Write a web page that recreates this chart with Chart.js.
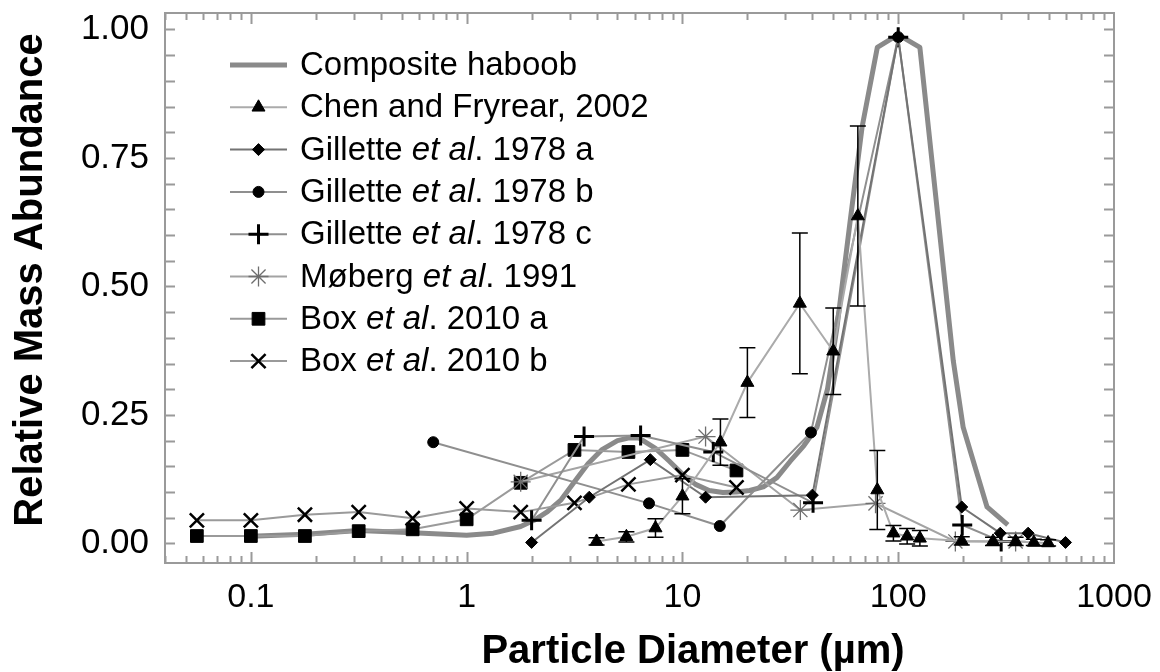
<!DOCTYPE html>
<html lang="en">
<head>
<meta charset="UTF-8">
<title>Haboob particle size distributions</title>
<script src="https://cdn.jsdelivr.net/npm/chart.js@4.4.1/dist/chart.umd.min.js"></script>
<style>
  html, body { margin: 0; padding: 0; background: #fff; }
  .wrap { position: relative; width: 1160px; height: 672px; }
</style>
</head>
<body>
<div class="wrap"><canvas id="psd"></canvas></div>
<script>
// Particle diameter (µm) vs relative mass abundance, one pair of arrays per source
const compositeX = [0.1, 0.178, 0.316, 0.562, 1.0, 1.33, 1.78, 2.05, 2.37, 2.74, 3.16, 3.65, 4.22, 5.0, 5.6, 6.3, 7.5, 8.7, 10, 11.5, 13.3, 15.4, 17.8, 20.5, 23.7, 27.4, 31.6, 36.5, 42, 47, 52, 60, 68, 80, 100, 126, 180, 200, 258, 322];
const compositeY = [0.014, 0.018, 0.025, 0.021, 0.016, 0.02, 0.033, 0.045, 0.062, 0.085, 0.12, 0.155, 0.182, 0.2, 0.205, 0.205, 0.185, 0.16, 0.135, 0.115, 0.103, 0.099, 0.1, 0.103, 0.11, 0.128, 0.16, 0.19, 0.226, 0.3, 0.42, 0.63, 0.81, 0.965, 0.99, 0.965, 0.355, 0.226, 0.071, 0.036];

const chenX = [4.0, 5.5, 7.5, 10, 15, 20, 35, 50, 65, 80, 95, 110, 126, 197, 275, 350, 425, 495];
const chenY = [0.004, 0.013, 0.03, 0.092, 0.197, 0.313, 0.467, 0.374, 0.637, 0.104, 0.02, 0.014, 0.01, 0.005, 0.004, 0.004, 0.002, 0.001];
const chenErr = [0.007, 0.01, 0.018, 0.034, 0.045, 0.068, 0.137, 0.084, 0.175, 0.077, 0.015, 0.015, 0.015, 0.008, 0.008, 0.008, 0.006, 0.006];

const gilletteAX = [2.0, 3.7, 7.1, 12.8, 40, 100, 197, 297, 400, 596];
const gilletteAY = [0.002, 0.09, 0.163, 0.09, 0.094, 0.985, 0.071, 0.02, 0.02, 0.002];

const gilletteBX = [0.7, 7.0, 14.9, 39.4, 100];
const gilletteBY = [0.197, 0.078, 0.034, 0.216, 0.985];

const gilletteCX = [2.0, 3.5, 6.4, 13.9, 40.3, 100, 198, 300];
const gilletteCY = [0.045, 0.208, 0.21, 0.178, 0.079, 0.985, 0.036, 0.004];

const mobergX = [1.78, 12.8, 35.2, 78.5, 184, 350];
const mobergY = [0.12, 0.208, 0.065, 0.078, 0.004, 0.004];

const boxAX = [0.0562, 0.1, 0.178, 0.316, 0.562, 1.0, 1.78, 3.16, 5.62, 10, 17.8];
const boxAY = [0.0145, 0.0145, 0.0145, 0.024, 0.0275, 0.047, 0.118, 0.182, 0.178, 0.182, 0.142];

const boxBX = [0.0562, 0.1, 0.178, 0.316, 0.562, 1.0, 1.78, 3.16, 5.62, 10, 17.8];
const boxBY = [0.045, 0.045, 0.056, 0.061, 0.049, 0.068, 0.061, 0.079, 0.115, 0.133, 0.109];

// axis ticks and titles
const xTickValues = [0.1, 1, 10, 100, 1000];
const xTickLabels = ['0.1', '1', '10', '100', '1000'];
const yTickValues = [0, 0.25, 0.5, 0.75, 1];
const yTickLabels = ['0.00', '0.25', '0.50', '0.75', '1.00'];
const xTitle = 'Particle Diameter (\u00b5m)';
const yTitle = 'Relative Mass Abundance';

// legend text, split so "et al" can be set in italics
const legendText = [
  [['Composite haboob', false]],
  [['Chen and Fryrear, 2002', false]],
  [['Gillette ', false], ['et al', true], ['. 1978 a', false]],
  [['Gillette ', false], ['et al', true], ['. 1978 b', false]],
  [['Gillette ', false], ['et al', true], ['. 1978 c', false]],
  [['M\u00f8berg ', false], ['et al', true], ['. 1991', false]],
  [['Box ', false], ['et al', true], ['. 2010 a', false]],
  [['Box ', false], ['et al', true], ['. 2010 b', false]]
];

const FONT = "Arial, 'Liberation Sans', sans-serif";
const pts = (xs, ys) => xs.map((x, i) => ({ x: x, y: ys[i] }));

function series(xs, ys, line, style, radius, extra) {
  return Object.assign({
    data: pts(xs, ys),
    borderColor: line,
    borderWidth: 2,
    pointStyle: style,
    pointRadius: radius,
    pointBackgroundColor: '#000',
    pointBorderColor: '#000',
    pointBorderWidth: 1,
    tension: 0,
    order: 1
  }, extra || {});
}

const datasets = [
  {
    data: pts(compositeX, compositeY),
    borderColor: '#8a8a8a',
    borderWidth: 5,
    borderJoinStyle: 'round',
    pointRadius: 0,
    tension: 0,
    order: 9
  },
  series(chenX, chenY, '#ababab', 'triangle', 7.5),
  series(gilletteAX, gilletteAY, '#737373', 'rectRot', 6),
  series(gilletteBX, gilletteBY, '#8f8f8f', 'circle', 5.5),
  series(gilletteCX, gilletteCY, '#8f8f8f', 'cross', 10, { pointBorderWidth: 3 }),
  series(mobergX, mobergY, '#a3a3a3', 'star', 10, { pointBorderColor: '#6e6e6e', pointBorderWidth: 1.3 }),
  series(boxAX, boxAY, '#9a9a9a', 'rect', 9),
  series(boxBX, boxBY, '#9a9a9a', 'crossRot', 10, { pointBorderWidth: 2.5 })
];

// frame with inward ticks on all four sides
const framePlugin = {
  id: 'frame',
  afterDraw(chart) {
    const { ctx, chartArea: a, scales: { x, y } } = chart;
    ctx.save();
    ctx.strokeStyle = '#9a9a9a';
    ctx.lineWidth = 2;
    ctx.strokeRect(a.left, a.top, a.right - a.left, a.bottom - a.top);
    ctx.beginPath();
    for (let v = 0; v <= 1.0001; v += 0.05) {
      const py = Math.round(y.getPixelForValue(v)) + 0.5;
      ctx.moveTo(a.left, py); ctx.lineTo(a.left + 10, py);
      ctx.moveTo(a.right, py); ctx.lineTo(a.right - 10, py);
    }
    for (let d = 0.01; d < 1000; d *= 10) {
      for (let m = 1; m <= 9; m++) {
        const v = d * m;
        if (v < x.min || v > x.max) continue;
        const px = Math.round(x.getPixelForValue(v)) + 0.5;
        const len = m === 1 ? 11 : 7;
        ctx.moveTo(px, a.bottom); ctx.lineTo(px, a.bottom - len);
        ctx.moveTo(px, a.top); ctx.lineTo(px, a.top + len);
      }
    }
    ctx.stroke();
    ctx.restore();
  }
};

// vertical error bars on the Chen and Fryrear points
const errorBarPlugin = {
  id: 'errorBars',
  afterDatasetsDraw(chart) {
    const { ctx, scales: { x, y } } = chart;
    ctx.save();
    ctx.strokeStyle = '#000';
    ctx.lineWidth = 1.5;
    ctx.beginPath();
    chenX.forEach((xv, i) => {
      const px = x.getPixelForValue(xv);
      const hi = y.getPixelForValue(chenY[i] + chenErr[i]);
      const lo = y.getPixelForValue(chenY[i] - chenErr[i]);
      ctx.moveTo(px, hi); ctx.lineTo(px, lo);
      ctx.moveTo(px - 8, hi); ctx.lineTo(px + 8, hi);
      ctx.moveTo(px - 8, lo); ctx.lineTo(px + 8, lo);
    });
    ctx.stroke();
    ctx.restore();
  }
};

// legend inside the plot, with a line sample and marker per source
const legendPlugin = {
  id: 'insideLegend',
  afterDraw(chart) {
    const ctx = chart.ctx;
    const x0 = 230, x1 = 287, textX = 300, top = 65, step = 42.3;
    ctx.save();
    ctx.textBaseline = 'middle';
    chart.data.datasets.forEach((ds, i) => {
      const yy = top + i * step;
      ctx.strokeStyle = ds.borderColor;
      ctx.lineWidth = ds.borderWidth;
      ctx.beginPath();
      ctx.moveTo(x0, yy); ctx.lineTo(x1, yy);
      ctx.stroke();
      if (ds.pointRadius > 0) {
        ctx.fillStyle = ds.pointBackgroundColor;
        ctx.strokeStyle = ds.pointBorderColor;
        ctx.lineWidth = ds.pointBorderWidth;
        Chart.helpers.drawPoint(ctx, {
          pointStyle: ds.pointStyle,
          radius: ds.pointRadius,
          rotation: 0,
          borderWidth: ds.pointBorderWidth
        }, (x0 + x1) / 2, yy);
      }
      let tx = textX;
      ctx.fillStyle = '#000';
      legendText[i].forEach(([s, it]) => {
        ctx.font = (it ? 'italic ' : '') + '33px ' + FONT;
        ctx.fillText(s, tx, yy + 1);
        tx += ctx.measureText(s).width;
      });
    });
    ctx.restore();
  }
};

// axis titles: the x title sits right of the plot centre
const titlePlugin = {
  id: 'axisTitles',
  afterDraw(chart) {
    const ctx = chart.ctx;
    ctx.save();
    ctx.fillStyle = '#000';
    ctx.font = 'bold 40px ' + FONT;
    ctx.textAlign = 'center';
    ctx.textBaseline = 'alphabetic';
    ctx.fillText(xTitle, 693, 663);
    ctx.translate(42, 280);
    ctx.rotate(-Math.PI / 2);
    ctx.fillText(yTitle, 0, 0);
    ctx.restore();
  }
};

Chart.defaults.font.family = FONT;
Chart.defaults.color = '#000';

new Chart(document.getElementById('psd'), {
  type: 'line',
  data: { datasets: datasets },
  options: {
    responsive: true,
    maintainAspectRatio: false,
    animation: false,
    layout: { padding: { top: 10, right: 46, left: 0, bottom: 0 } },
    plugins: {
      legend: { display: false },
      tooltip: { enabled: false }
    },
    scales: {
      x: {
        type: 'logarithmic',
        min: 0.04,
        max: 1000,
        grid: { display: false, drawTicks: false },
        border: { display: false },
        afterBuildTicks: (s) => { s.ticks = xTickValues.map(v => ({ value: v })); },
        afterFit: (s) => { s.height = 109; s.paddingLeft = 0; s.paddingRight = 0; },
        ticks: {
          autoSkip: false,
          maxRotation: 0,
          padding: 14,
          font: { size: 34 },
          callback: (v, i) => xTickLabels[i]
        }
      },
      y: {
        min: -0.038,
        max: 1.032,
        grid: { display: false, drawTicks: false },
        border: { display: false },
        afterBuildTicks: (s) => { s.ticks = yTickValues.map(v => ({ value: v })); },
        afterFit: (s) => { s.width = 165; s.paddingTop = 0; s.paddingBottom = 0; },
        ticks: {
          padding: 16,
          font: { size: 35 },
          callback: (v, i) => yTickLabels[i]
        }
      }
    }
  },
  plugins: [framePlugin, errorBarPlugin, legendPlugin, titlePlugin]
});
</script>
</body>
</html>
